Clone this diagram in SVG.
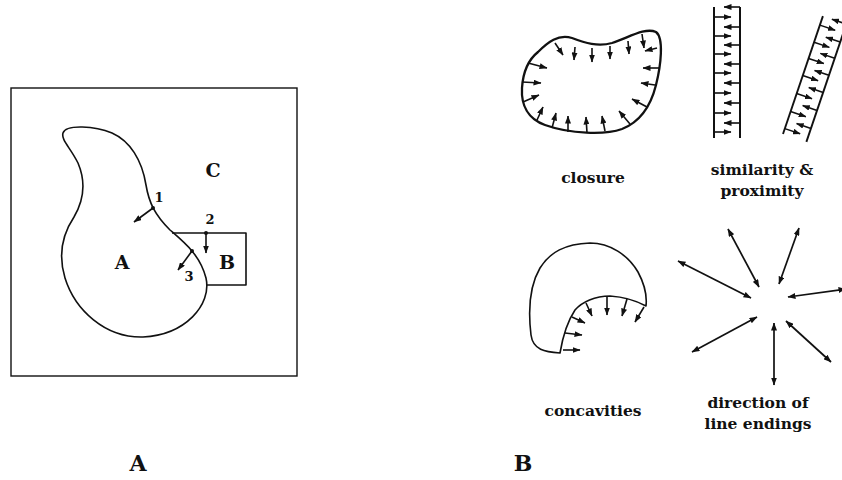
<svg xmlns="http://www.w3.org/2000/svg" xmlns:xlink="http://www.w3.org/1999/xlink" width="842" height="480" viewBox="0 0 842 480">
<defs>
<marker id="ah" viewBox="0 0 8 6" refX="7.5" refY="3" markerWidth="8" markerHeight="6" markerUnits="userSpaceOnUse" orient="auto-start-reverse"><path d="M0,0 L8,3 L0,6 Z" fill="#111"/></marker>
<marker id="dot" viewBox="0 0 4 4" refX="2" refY="2" markerWidth="4" markerHeight="4" markerUnits="userSpaceOnUse"><circle cx="2" cy="2" r="2" fill="#111"/></marker>
<g id="ladder">
<line class="rail" x1="714" y1="7" x2="714" y2="138"/>
<line class="rail" x1="740" y1="7" x2="740" y2="138"/>
<g class="tick">
<line x1="740" y1="7" x2="724" y2="7"/>
<line x1="714" y1="17" x2="731" y2="17"/>
<line x1="740" y1="27" x2="724" y2="27"/>
<line x1="714" y1="36" x2="731" y2="36"/>
<line x1="740" y1="45" x2="724" y2="45"/>
<line x1="714" y1="54" x2="731" y2="54"/>
<line x1="740" y1="64" x2="724" y2="64"/>
<line x1="714" y1="73" x2="731" y2="73"/>
<line x1="740" y1="83" x2="724" y2="83"/>
<line x1="714" y1="93" x2="731" y2="93"/>
<line x1="740" y1="103" x2="724" y2="103"/>
<line x1="714" y1="113" x2="731" y2="113"/>
<line x1="740" y1="123" x2="724" y2="123"/>
<line x1="714" y1="132" x2="731" y2="132"/>
</g>
</g>
</defs>
<style>
.ol{fill:none;stroke:#111;stroke-width:1.6;stroke-linejoin:round}
.thick{fill:none;stroke:#111;stroke-width:2.3}
.rail{stroke:#111;stroke-width:2}
.tick line,.tick path{stroke:#111;stroke-width:1.6;fill:none;marker-end:url(#ah)}
.star line{stroke:#111;stroke-width:1.7;marker-start:url(#ah);marker-end:url(#ah)}
.lbl{font-family:"DejaVu Serif","Liberation Serif",serif;font-weight:bold;fill:#111;text-anchor:middle}
.cap{font-size:15.5px}
.big{font-size:19px}
.num{font-size:13px}
.title{font-size:22px}
</style>
<rect width="842" height="480" fill="#fff"/>

<g id="panelA">
<rect x="11" y="88" width="286" height="288" fill="none" stroke="#111" stroke-width="1.4"/>
<path id="regionA" class="ol" d="M63,133 C66,124 95,126 112,133 C130,141 142,160 146,185 C149,203 155,215 170,230 C185,243 200,255 206,278 C212,305 185,335 143,337 C105,338 75,310 65,278 C58,255 62,235 74,217 C84,200 86,182 78,163 C70,147 61,140 63,133 Z"/>
<path id="regionB" class="ol" d="M172,233 H246 V285 H207"/>
<g class="tick">
<line x1="153" y1="208" x2="134" y2="222" style="marker-start:url(#dot)"/>
<line x1="206" y1="233" x2="206" y2="253" style="marker-start:url(#dot)"/>
<line x1="192" y1="251" x2="178" y2="270" style="marker-start:url(#dot)"/>
</g>
<text class="lbl big" x="213" y="177">C</text>
<text class="lbl big" x="122" y="269">A</text>
<text class="lbl big" x="227" y="269">B</text>
<text class="lbl num" x="159" y="202">1</text>
<text class="lbl num" x="210" y="224">2</text>
<text class="lbl num" x="189" y="281">3</text>
<text class="lbl title" x="138" y="471">A</text>
</g>

<g id="closure">
<path class="thick" d="M538,52 C548,42 558,34 572,38 C585,43 598,47 612,43 C628,38 645,27 656,32 C664,38 661,65 656,85 C651,105 640,122 622,129 C605,135 570,134 545,125 C528,119 521,105 522,88 C523,72 528,60 538,52 Z"/>
<g class="tick">
<line x1="555" y1="43" x2="563" y2="55"/>
<line x1="575" y1="47" x2="574" y2="60"/>
<line x1="592" y1="48" x2="592" y2="62"/>
<line x1="610" y1="46" x2="610" y2="59"/>
<line x1="628" y1="41" x2="629" y2="54"/>
<line x1="642" y1="34" x2="644" y2="48"/>
<line x1="657" y1="48" x2="645" y2="51"/>
<line x1="659" y1="68" x2="643" y2="68"/>
<line x1="655" y1="85" x2="641" y2="83"/>
<line x1="647" y1="107" x2="632" y2="99"/>
<line x1="630" y1="124" x2="619" y2="111"/>
<line x1="605" y1="131" x2="602" y2="116"/>
<line x1="587" y1="133" x2="586" y2="117"/>
<line x1="568" y1="132" x2="568" y2="116"/>
<line x1="552" y1="128" x2="556" y2="113"/>
<line x1="537" y1="120" x2="543" y2="107"/>
<line x1="523" y1="102" x2="539" y2="95"/>
<line x1="522" y1="82" x2="541" y2="83"/>
<line x1="528" y1="63" x2="547" y2="68"/>
</g>
<text class="lbl cap" x="593" y="183">closure</text>
</g>

<g id="similarity">
<use xlink:href="#ladder"/>
<use xlink:href="#ladder" transform="translate(783,134) rotate(18.7) scale(0.95) translate(-714,-138)"/>
<text class="lbl cap" x="762" y="175">similarity &amp;</text>
<text class="lbl cap" x="762" y="196">proximity</text>
</g>

<g id="concavities">
<path class="ol" stroke-width="1.8" d="M560,353 C545,352 533,350 531,335 C528,310 530,285 540,268 C550,252 565,244 590,243 C610,243 628,255 638,272 C645,285 647,297 646,306 C635,300 625,297 610,296 C595,296 582,302 575,310 C567,322 563,335 560,353 Z"/>
<g class="tick">
<line x1="563" y1="350" x2="580" y2="350"/>
<line x1="565" y1="333" x2="582" y2="335"/>
<line x1="572" y1="317" x2="585" y2="323"/>
<line x1="586" y1="303" x2="592" y2="316"/>
<line x1="607" y1="297" x2="607" y2="315"/>
<line x1="627" y1="299" x2="622" y2="316"/>
<line x1="644" y1="307" x2="635" y2="322"/>
</g>
<text class="lbl cap" x="593" y="416">concavities</text>
</g>

<g id="lineEndings">
<g class="star">
<line x1="678" y1="261" x2="751" y2="298"/>
<line x1="728" y1="229" x2="759" y2="287"/>
<line x1="799" y1="228" x2="779" y2="284"/>
<line x1="846" y1="289" x2="788" y2="297"/>
<line x1="692" y1="352" x2="757" y2="317"/>
<line x1="774" y1="323" x2="774" y2="385"/>
<line x1="786" y1="321" x2="831" y2="362"/>
</g>
<text class="lbl cap" x="758" y="408">direction of</text>
<text class="lbl cap" x="758" y="429">line endings</text>
<text class="lbl title" x="523" y="471">B</text>
</g>
</svg>
